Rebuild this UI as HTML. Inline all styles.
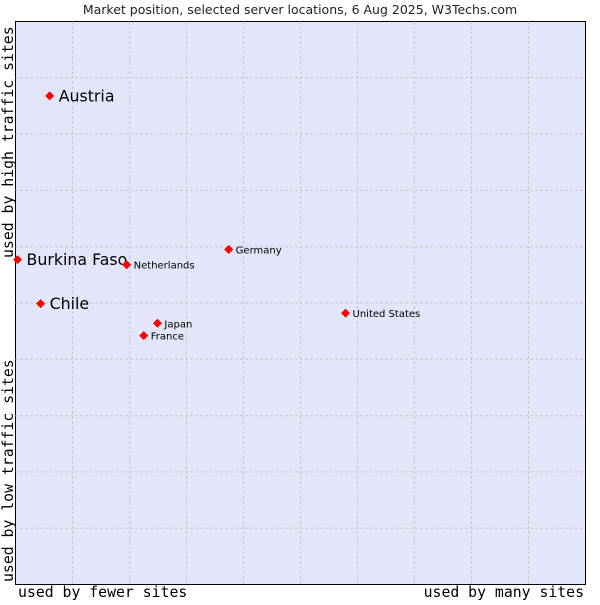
<!DOCTYPE html>
<html><head><meta charset="utf-8"><style>
body{margin:0;background:#fff;width:600px;height:600px;overflow:hidden}
svg text{font-family:"DejaVu Sans","Liberation Sans",sans-serif}
.mono{font-family:"DejaVu Sans Mono","Liberation Mono",monospace}
</style></head><body>
<svg id="chart" width="600" height="600">
<text x="300" y="14" text-anchor="middle" font-size="12.5" fill="#222">Market position, selected server locations, 6 Aug 2025, W3Techs.com</text>
<rect x="15.5" y="21.5" width="570" height="563" fill="#e3e5f8" stroke="#000"/>
<g id="grid"></g>
<g id="marks"></g>
<text class="mono" x="18" y="597" font-size="14.8">used by fewer sites</text>
<text class="mono" x="584" y="597" font-size="14.8" text-anchor="end">used by many sites</text>
<text class="mono" transform="translate(13,582) rotate(-90)" font-size="14.8">used by low traffic sites</text>
<text class="mono" transform="translate(13,258) rotate(-90)" font-size="14.8">used by high traffic sites</text>
</svg>
<script>
const countries=["Austria","Burkina Faso","Netherlands","Germany","Chile","Japan","France","United States"];
const xValues=[6.0,0.35,19.5,37.4,4.4,24.9,22.5,57.9];
const yValues=[86.8,57.7,56.8,59.5,49.9,46.4,44.2,48.2];
const bigLabel=[true,true,false,false,true,false,false,false];
const L=15.5,R=585.5,T=21.5,B=584.5;
const sx=v=>L+v/100*(R-L), sy=v=>B-v/100*(B-T);
const ns="http://www.w3.org/2000/svg";
const grid=document.getElementById('grid'), marks=document.getElementById('marks');
for(let i=1;i<10;i++){
 const v=document.createElementNS(ns,'line');
 v.setAttribute('x1',sx(i*10));v.setAttribute('x2',sx(i*10));v.setAttribute('y1',T);v.setAttribute('y2',B);
 v.setAttribute('stroke','#bbb');v.setAttribute('stroke-dasharray','2,3');
 
 
 grid.appendChild(v);
 const h=document.createElementNS(ns,'line');
 h.setAttribute('y1',sy(i*10));h.setAttribute('y2',sy(i*10));h.setAttribute('x1',L);h.setAttribute('x2',R);
 h.setAttribute('stroke','#bbb');h.setAttribute('stroke-dasharray','2,3');
 
 
 grid.appendChild(h);
}
countries.forEach((c,i)=>{
 const x=sx(xValues[i]),y=sy(yValues[i]);
 const p=document.createElementNS(ns,'path');
 p.setAttribute('d',`M${x-4.5},${y}L${x},${y-4.5}L${x+4.5},${y}L${x},${y+4.5}Z`);
 p.setAttribute('fill','#f00');
 
 
 marks.appendChild(p);
 const t=document.createElementNS(ns,'text');
 const big=bigLabel[i];
 t.setAttribute('x',x+(big?9:7));t.setAttribute('y',y+(big?5.5:4));
 t.setAttribute('font-size',big?15.8:10);t.setAttribute('fill','#000');
 t.textContent=c;
 
 
 marks.appendChild(t);
});
</script>
</body></html>
